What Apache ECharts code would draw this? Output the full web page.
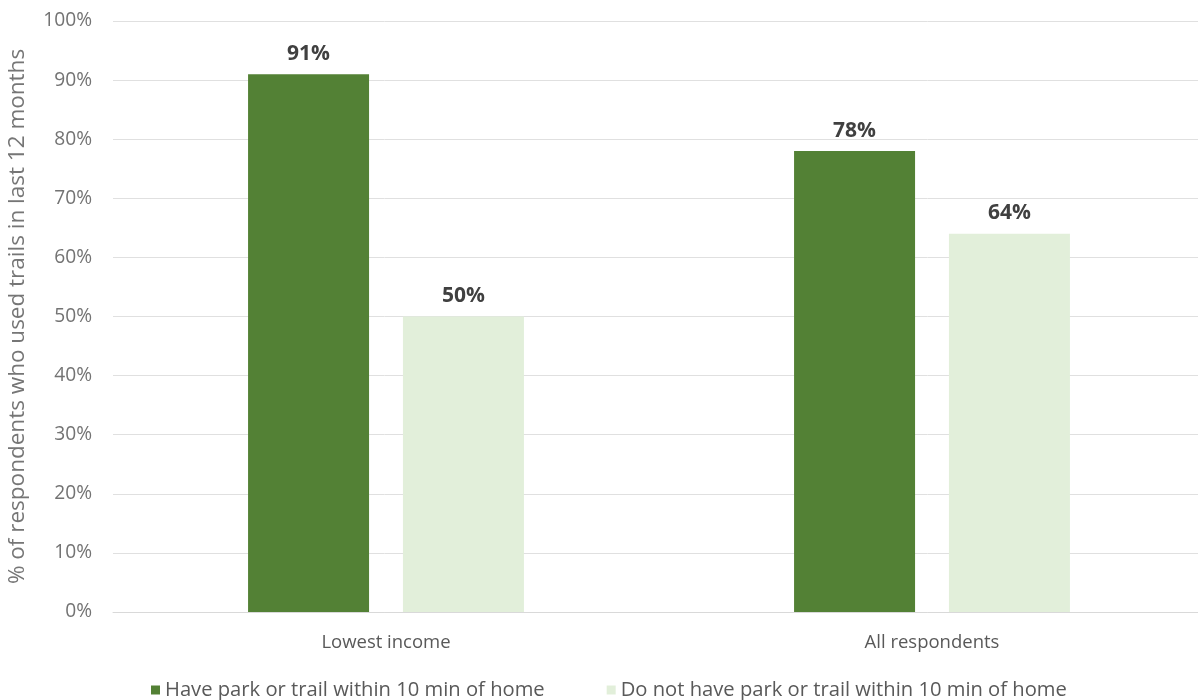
<!DOCTYPE html>
<html>
<head>
<meta charset="utf-8">
<script src="https://cdn.jsdelivr.net/npm/echarts@6/dist/echarts.min.js"></script>
<style>
  html, body { margin: 0; padding: 0; background: #ffffff; }
  #chart { width: 1198px; height: 700px; }
</style>
</head>
<body>
<div id="chart"></div>
<script>
// Trail use by proximity to a park or trail
const categories = ['Lowest income', 'All respondents'];
const seriesNames = [
  'Have park or trail within 10 min of home',
  'Do not have park or trail within 10 min of home'
];
const haveParkValues = [91, 78];
const noParkValues = [50, 64];
const yTicks = [0, 10, 20, 30, 40, 50, 60, 70, 80, 90, 100];
const yAxisTitle = '% of respondents who used trails in last 12 months';

const FONT = 'Open Sans';
const chart = echarts.init(document.getElementById('chart'), null, { renderer: 'canvas' });

const labelStyle = {
  show: true,
  position: 'top',
  distance: 10,
  formatter: p => p.value + '%',
  color: '#404040',
  fontFamily: FONT,
  fontWeight: 'bold',
  fontSize: 21
};

chart.setOption({
  animation: false,
  backgroundColor: '#ffffff',
  textStyle: { fontFamily: FONT },
  grid: { left: 113, top: 21, width: 1092, height: 591, outerBoundsMode: 'none', containLabel: false },
  legend: {
    top: 675,
    left: 146,
    itemWidth: 9,
    itemHeight: 9,
    itemGap: 62,
    icon: 'rect',
    textStyle: { color: '#595959', fontFamily: FONT, fontSize: 20.2 },
    data: seriesNames
  },
  xAxis: {
    type: 'category',
    data: categories,
    axisLine: { show: true, lineStyle: { color: '#d9d9d9', width: 1 } },
    axisTick: { show: false },
    axisLabel: { color: '#595959', fontFamily: FONT, fontSize: 18.5, margin: 21 }
  },
  yAxis: {
    type: 'value',
    min: yTicks[0],
    max: yTicks[yTicks.length - 1],
    interval: 10,
    name: yAxisTitle,
    nameLocation: 'middle',
    nameGap: 84,
    nameRotate: 90,
    nameTextStyle: { color: '#767676', fontFamily: FONT, fontSize: 22.5 },
    axisLine: { show: false },
    axisTick: { show: false },
    axisLabel: { color: '#737373', fontFamily: FONT, fontSize: 19.2, margin: 21, formatter: v => v + '%' },
    splitLine: { lineStyle: { color: '#e0e0e0', width: 1 } }
  },
  series: [
    {
      name: seriesNames[0],
      type: 'bar',
      data: haveParkValues,
      barWidth: 121,
      barGap: '28%',
      itemStyle: { color: '#538135' },
      label: labelStyle
    },
    {
      name: seriesNames[1],
      type: 'bar',
      data: noParkValues,
      barWidth: 121,
      itemStyle: { color: '#e2efda' },
      label: labelStyle
    }
  ]
});
</script>
</body>
</html>
